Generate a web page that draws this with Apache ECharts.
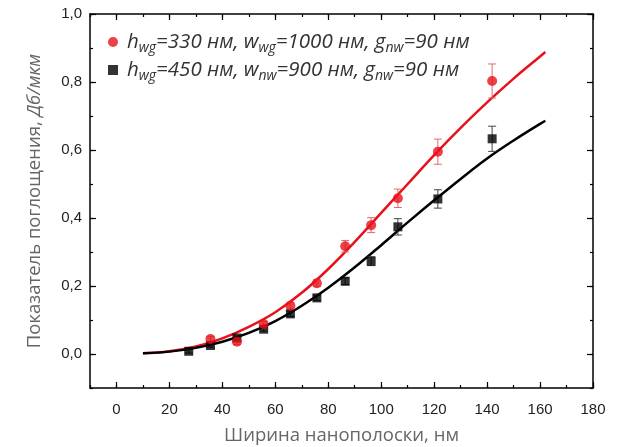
<!DOCTYPE html>
<html><head><meta charset="utf-8">
<script src="https://cdn.jsdelivr.net/npm/echarts@6/dist/echarts.min.js"></script>
<style>html,body{margin:0;padding:0;background:#fff}#c{width:619px;height:447px}</style>
</head><body><div id="c"></div>
<script>
// Data
const xRed   = [35.5, 45.5, 55.6, 65.7, 75.7, 86.4, 96.2, 106.3, 121.4, 141.9];
const yRed   = [0.044, 0.036, 0.088, 0.142, 0.208, 0.317, 0.379, 0.458, 0.595, 0.803];
const eRed   = [0.008, 0.008, 0.008, 0.01, 0.01, 0.017, 0.022, 0.027, 0.037, 0.05];
const xBlack = [27.3, 35.5, 45.5, 55.6, 65.7, 75.7, 86.4, 96.2, 106.3, 121.4, 141.9];
const yBlack = [0.008, 0.025, 0.047, 0.073, 0.118, 0.165, 0.214, 0.273, 0.374, 0.456, 0.633];
const eBlack = [0.005, 0.005, 0.006, 0.006, 0.008, 0.008, 0.01, 0.013, 0.024, 0.027, 0.037];
const xFit   = [10, 20, 30, 40, 50, 60, 70, 80, 90, 100, 110, 120, 130, 140, 150, 160, 162];
const yFitRed   = [0.002, 0.008, 0.022, 0.046, 0.08, 0.123, 0.18, 0.25, 0.33, 0.415, 0.5, 0.585, 0.665, 0.74, 0.81, 0.875, 0.888];
const yFitBlack = [0.002, 0.007, 0.018, 0.036, 0.062, 0.097, 0.142, 0.195, 0.255, 0.32, 0.387, 0.452, 0.515, 0.575, 0.628, 0.677, 0.686];
const seriesNames = ['red', 'black'];
const legendLabels = {
  red:   '{p|}{m|h}{s|wg}{m|=330 нм, w}{s|wg}{m|=1000 нм, g}{s|nw}{m|=90 нм}',
  black: '{p|}{m|h}{s|wg}{m|=450 нм, w}{s|nw}{m|=900 нм, g}{s|nw}{m|=90 нм}'
};
const xName = 'Ширина нанополоски, нм';
const yName = '{a|Показатель поглощения, }{b|Дб/мкм}';
// axis ranges (outer box) and major-tick ranges
const xRange = [-10, 180], xMajor = [0, 180], xStep = 20;
const yRange = [-0.1, 1.0], yMajor = [0, 1.0], yStep = 0.2;

const RED = '#e8101a', BLACK = '#000000';
const zip = (xs, ys) => xs.map((x, i) => [x, ys[i]]);
const zip3 = (xs, ys, es) => xs.map((x, i) => [x, ys[i], es[i]]);

function errBar(color) {
  return function (params, api) {
    const x = api.value(0), y = api.value(1), e = api.value(2);
    const lo = api.coord([x, y - e]), hi = api.coord([x, y + e]);
    const w = 4;
    const st = { stroke: color, lineWidth: 1 };
    return { type: 'group', children: [
      { type: 'line', shape: { x1: lo[0], y1: lo[1], x2: hi[0], y2: hi[1] }, style: st },
      { type: 'line', shape: { x1: lo[0] - w, y1: lo[1], x2: lo[0] + w, y2: lo[1] }, style: st },
      { type: 'line', shape: { x1: hi[0] - w, y1: hi[1], x2: hi[0] + w, y2: hi[1] }, style: st }
    ]};
  };
}

// layout of the outer box
const W = 619, H = 447;
const G = { left: 90, right: 26, top: 14, bottom: 59 };
const gw = W - G.left - G.right, gh = H - G.top - G.bottom;
const padL = (xMajor[0] - xRange[0]) / (xRange[1] - xRange[0]) * gw;
const padB = (yMajor[0] - yRange[0]) / (yRange[1] - yRange[0]) * gh;

const axisFont = { fontFamily: 'Liberation Sans', fontSize: 15, color: '#222' };
const lineSt = { color: '#000', width: 1.5 };
const tickSt = { color: '#000', width: 1.2 };
const minorAxis = (extra) => Object.assign({
  type: 'value', gridIndex: 0,
  axisLine: { show: true, onZero: false, lineStyle: lineSt },
  axisTick: { show: true, inside: true, length: 3, lineStyle: tickSt },
  axisLabel: { show: false }, splitLine: { show: false }
}, extra);
const majorAxis = (extra) => Object.assign({
  type: 'value', gridIndex: 1,
  axisLine: { show: false, onZero: false },
  axisTick: { show: true, inside: true, length: 6, lineStyle: tickSt },
  axisLabel: { show: false }, splitLine: { show: false }
}, extra);

const chart = echarts.init(document.getElementById('c'), null, { renderer: 'canvas' });
chart.setOption({
  animation: false,
  backgroundColor: '#fff',
  grid: [
    { left: G.left, right: G.right, top: G.top, bottom: G.bottom, outerBoundsMode: 'none', containLabel: false },
    { left: G.left + padL, right: G.right, top: G.top, bottom: G.bottom + padB, outerBoundsMode: 'none', containLabel: false }
  ],
  legend: {
    data: seriesNames, orient: 'vertical', left: 103, top: 24, itemGap: 2,
    itemWidth: 10, itemHeight: 10,
    formatter: n => legendLabels[n],
    textStyle: {
      fontFamily: 'Open Sans', fontStyle: 'italic', fontSize: 20.5, color: '#333',
      rich: {
        p: { width: 4 },
        m: { fontFamily: 'Open Sans', fontStyle: 'italic', fontSize: 20.5, color: '#333', lineHeight: 24 },
        s: { fontFamily: 'Open Sans', fontStyle: 'italic', fontSize: 14, color: '#333', lineHeight: 24, padding: [12, 0, 0, 0] }
      }
    }
  },
  xAxis: [
    minorAxis({ position: 'bottom', min: xRange[0], max: xRange[1], interval: xStep / 2,
      name: xName, nameLocation: 'middle', nameGap: 38,
      nameTextStyle: { fontFamily: 'Open Sans', fontSize: 18.5, color: '#666' } }),
    minorAxis({ position: 'top', min: xRange[0], max: xRange[1], interval: xStep / 2 }),
    majorAxis({ position: 'bottom', offset: padB, min: xMajor[0], max: xMajor[1], interval: xStep,
      axisLabel: Object.assign({ show: true, margin: 14, formatter: v => String(v) }, axisFont) }),
    majorAxis({ position: 'top', min: xMajor[0], max: xMajor[1], interval: xStep })
  ],
  yAxis: [
    minorAxis({ position: 'left', min: yRange[0], max: yRange[1], interval: yStep / 2,
      name: yName, nameLocation: 'middle', nameGap: 46, nameRotate: 90,
      nameTextStyle: {
        fontFamily: 'Open Sans', fontSize: 18.5, color: '#666',
        rich: {
          a: { fontFamily: 'Open Sans', fontSize: 18.5, color: '#666' },
          b: { fontFamily: 'Open Sans', fontSize: 18.5, color: '#666', fontStyle: 'italic' }
        }
      } }),
    minorAxis({ position: 'right', min: yRange[0], max: yRange[1], interval: yStep / 2 }),
    majorAxis({ position: 'left', offset: padL, min: yMajor[0], max: yMajor[1], interval: yStep,
      axisLabel: Object.assign({ show: true, margin: 8, formatter: v => v.toFixed(1).replace('.', ',') }, axisFont) }),
    majorAxis({ position: 'right', min: yMajor[0], max: yMajor[1], interval: yStep })
  ],
  series: [
    { name: 'redFit', type: 'line', data: zip(xFit, yFitRed), smooth: 0.4, showSymbol: false,
      lineStyle: { color: RED, width: 2.5 }, z: 2, silent: true },
    { name: 'blackFit', type: 'line', data: zip(xFit, yFitBlack), smooth: 0.4, showSymbol: false,
      lineStyle: { color: BLACK, width: 2.5 }, z: 2, silent: true },
    { name: 'redErr', type: 'custom', data: zip3(xRed, yRed, eRed), renderItem: errBar('#e06a6a'), z: 3 },
    { name: 'blackErr', type: 'custom', data: zip3(xBlack, yBlack, eBlack), renderItem: errBar('#444'), z: 3 },
    { name: 'black', type: 'scatter', data: zip(xBlack, yBlack), symbol: 'rect', symbolSize: 9,
      itemStyle: { color: BLACK }, z: 4 },
    { name: 'red', type: 'scatter', data: zip(xRed, yRed), symbol: 'circle', symbolSize: 10,
      itemStyle: { color: RED }, z: 5 }
  ]
});
</script></body></html>
